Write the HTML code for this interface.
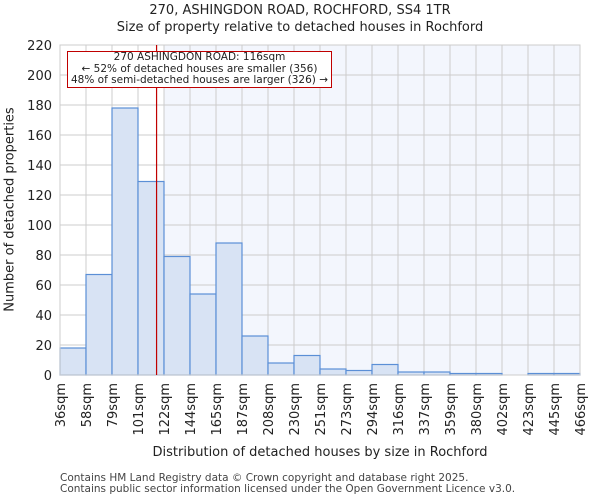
<!DOCTYPE html>
<html><head><meta charset="utf-8"><style>
body{margin:0;background:#fff;font-family:"DejaVu Sans","Liberation Sans",sans-serif}
text{font-family:"DejaVu Sans","Liberation Sans",sans-serif;fill:#222}
</style></head><body>
<svg id="c" width="600" height="500"></svg>
<script>
const categories=["36sqm","58sqm","79sqm","101sqm","122sqm","144sqm","165sqm","187sqm","208sqm","230sqm","251sqm","273sqm","294sqm","316sqm","337sqm","359sqm","380sqm","402sqm","423sqm","445sqm","466sqm"];
const counts=[18,67,178,129,79,54,88,26,8,13,4,3,7,2,2,1,1,0,1,1];
const yTicks=[0,20,40,60,80,100,120,140,160,180,200,220];
const propertySize=116;
const X0=60,X1=580,Y0=375,Y1=45,YMAX=220;
const svg=document.getElementById('c');
const NS='http://www.w3.org/2000/svg';
const bw=(X1-X0)/counts.length;
const xs=i=>X0+i*bw;
const ys=v=>Y0-(v/YMAX)*(Y0-Y1);
const edgeVals=categories.map(c=>parseFloat(c));
function xv(v){for(let i=0;i<edgeVals.length-1;i++){if(v>=edgeVals[i]&&v<=edgeVals[i+1])return xs(i)+(v-edgeVals[i])/(edgeVals[i+1]-edgeVals[i])*bw;}return X1;}
function el(t,a,p){const e=document.createElementNS(NS,t);for(const k in a)e.setAttribute(k,a[k]);(p||svg).appendChild(e);return e;}
const lineX=xv(propertySize);
let ti=edgeVals.findIndex(v=>v>propertySize);
const bg=el('rect',{x:xs(ti),y:Y1,width:X1-xs(ti),height:Y0-Y1,fill:'#f3f6fd'});


for(const t of yTicks){
 const g=el('line',{x1:X0,x2:X1,y1:ys(t),y2:ys(t),stroke:'#cccccc','stroke-width':1});
 
 
 const tx=el('text',{x:X0-8,y:ys(t)+5,'text-anchor':'end','font-size':13});
 tx.textContent=t;
 
 
}
categories.forEach((c,i)=>{
 const g=el('line',{x1:xs(i),x2:xs(i),y1:Y1,y2:Y0,stroke:'#cccccc','stroke-width':1});
 
 
 const tx=el('text',{transform:`translate(${xs(i)+5},${Y0+8}) rotate(-90)`,'text-anchor':'end','font-size':13});
 tx.textContent=c;
 
 
});
counts.forEach((v,i)=>{
 const r=el('rect',{x:xs(i),y:ys(v),width:bw,height:Y0-ys(v),fill:'#d8e3f4',stroke:'#5b8fd6','stroke-width':1.2});
 
 
});
const fr=el('rect',{x:X0,y:Y1,width:X1-X0,height:Y0-Y1,fill:'none',stroke:'#cccccc'});


const pl=el('line',{x1:lineX,x2:lineX,y1:Y1,y2:Y0,stroke:'#c00000','stroke-width':1.2});


</script>
<div style="position:absolute;left:67px;top:51px;width:263px;height:35px;background:#fff;border:1px solid #c00000;font-size:10.5px;line-height:11.5px;text-align:center;color:#222">270 ASHINGDON ROAD: 116sqm<br>← 52% of detached houses are smaller (356)<br>48% of semi-detached houses are larger (326) →</div>
<div style="position:absolute;left:0;top:2px;width:600px;text-align:center;font-size:13px;line-height:17px;color:#222">270, ASHINGDON ROAD, ROCHFORD, SS4 1TR<br>Size of property relative to detached houses in Rochford</div>
<div style="position:absolute;left:-95px;top:202px;width:210px;text-align:center;transform:rotate(-90deg);font-size:13px;color:#222">Number of detached properties</div>
<div style="position:absolute;left:60px;top:445px;width:520px;text-align:center;font-size:13px;color:#222">Distribution of detached houses by size in Rochford</div>
<div style="position:absolute;left:60px;top:473px;font-size:10.5px;line-height:11px;color:#444">Contains HM Land Registry data © Crown copyright and database right 2025.<br>Contains public sector information licensed under the Open Government Licence v3.0.</div>
</body></html>
